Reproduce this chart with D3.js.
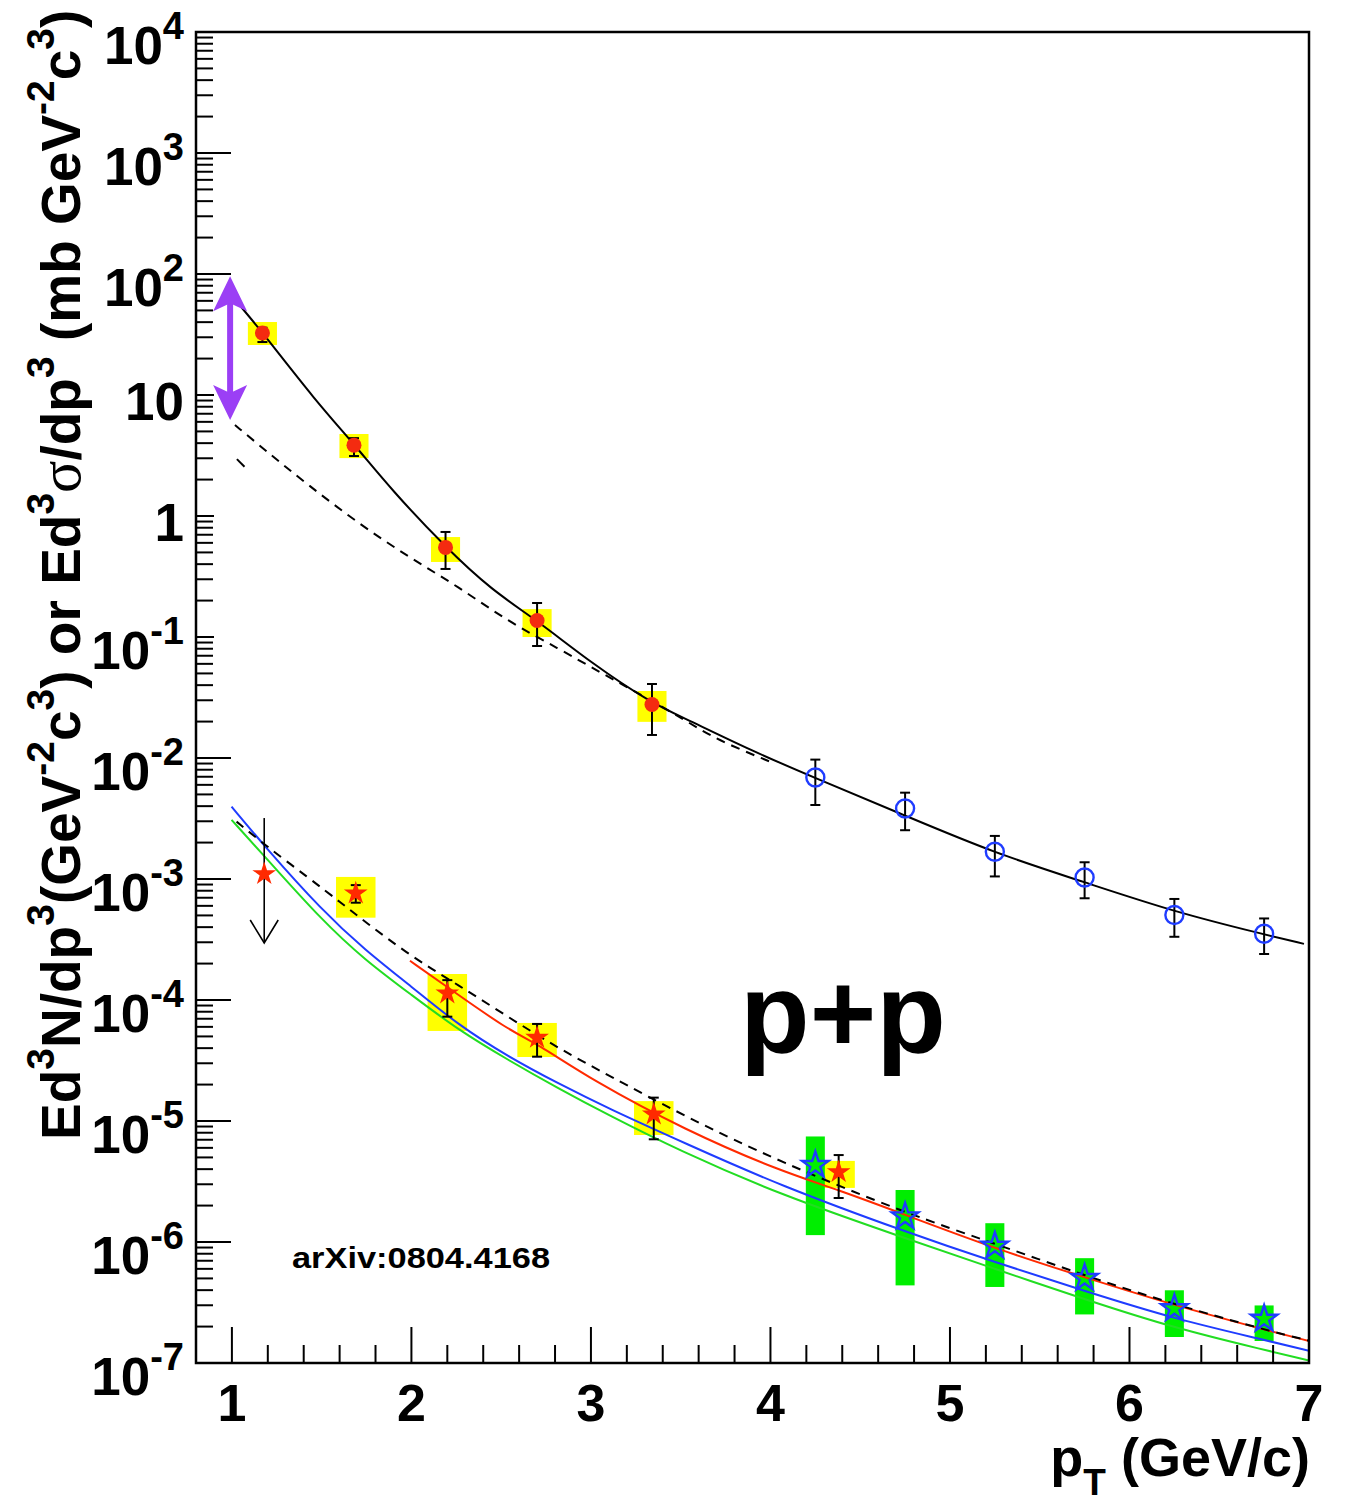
<!DOCTYPE html>
<html>
<head>
<meta charset="utf-8">
<script src="https://cdn.jsdelivr.net/npm/d3@7"></script>
<style>
  body { margin: 0; background: #fff; }
  text { font-family: "Liberation Sans", Arial, Helvetica, sans-serif; font-weight: bold; }
</style>
</head>
<body>
<svg id="chart" width="1348" height="1504"></svg>
<script>
// ---- data ----
// upper: Ed3sigma/dp3 (mb), red circles with yellow syst boxes
const upperPt    = [1.17, 1.68, 2.19, 2.70, 3.34];
const upperVal   = [32.5, 3.85, 0.55, 0.137, 0.0277];
const upperErrHi = [36, 4.4, 0.738, 0.191, 0.0409];
const upperErrLo = [27.4, 3.13, 0.365, 0.0843, 0.0155];
const upperSysHi = [40.1, 4.76, 0.67, 0.170, 0.0358];
const upperSysLo = [25.9, 3.01, 0.417, 0.100, 0.0199];

// upper: blue open circles
const openPt    = [4.25, 4.75, 5.25, 5.75, 6.25, 6.75];
const openVal   = [6.9e-3, 3.82e-3, 1.68e-3, 1.03e-3, 5.04e-4, 3.53e-4];
const openErrHi = [9.7e-3, 5.17e-3, 2.27e-3, 1.375e-3, 6.84e-4, 4.72e-4];
const openErrLo = [4.09e-3, 2.53e-3, 1.05e-3, 6.93e-4, 3.33e-4, 2.40e-4];

// lower: Ed3N/dp3, red stars with yellow syst boxes
const starPt    = [1.69, 2.20, 2.70, 3.35, 4.38];
const starVal   = [7.62e-4, 1.135e-4, 4.88e-5, 1.135e-5, 3.79e-6];
const starErrHi = [8.9e-4, 1.46e-4, 6.34e-5, 1.56e-5, 5.23e-6];
const starErrLo = [6.37e-4, 7.28e-5, 3.40e-5, 7.06e-6, 2.31e-6];
const starSysHi = [1.04e-3, 1.64e-4, 6.46e-5, 1.46e-5, 4.68e-6];
const starSysLo = [4.79e-4, 5.55e-5, 3.38e-5, 7.66e-6, 2.80e-6];
const starBinHalf = [0.11, 0.11, 0.11, 0.11, 0.09];

// lower: upper limit at lowest pT
const limitPt = 1.18, limitVal = 1.1e-3, limitTop = 3.19e-3, limitBottom = 2.96e-4;

// lower: blue open stars with green syst boxes
const bstarPt    = [4.25, 4.75, 5.25, 5.75, 6.25, 6.75];
const bstarVal   = [4.31e-6, 1.62e-6, 9.27e-7, 5.02e-7, 2.82e-7, 2.31e-7];
const bstarSysHi = [7.45e-6, 2.69e-6, 1.43e-6, 7.35e-7, 3.99e-7, 2.99e-7];
const bstarSysLo = [1.14e-6, 4.38e-7, 4.25e-7, 2.52e-7, 1.64e-7, 1.52e-7];

// curves (sampled along the drawn lines)
const fitUpperPt  = [1.04, 1.173, 1.462, 1.685, 1.890, 2.187, 2.447, 2.698, 3.004, 3.338, 3.524, 3.886, 4.248, 4.755, 5.251, 5.752, 6.253, 6.755, 6.972];
const fitUpperVal = [56, 32.5, 9.10, 3.86, 1.64, 0.557, 0.244, 0.138, 0.0606, 0.0283, 0.0213, 0.01164, 6.84e-3, 3.32e-3, 1.63e-3, 9.4e-4, 5.33e-4, 3.47e-4, 2.91e-4];

const dashUpperPt  = [1.017, 1.184, 1.425, 1.704, 1.982, 2.261, 2.539, 2.818, 3.060, 3.282, 3.524, 3.702, 4.0];
const dashUpperVal = [5.65, 3.51, 1.80, 0.871, 0.461, 0.261, 0.134, 0.0807, 0.0501, 0.0332, 0.0206, 0.0141, 9.3e-3];

const strayPt  = [1.028, 1.07];
const strayVal = [2.95, 2.55];

const dashLowerPt  = [1.026, 1.184, 1.425, 1.611, 1.741, 2.001, 2.261, 2.539, 2.818, 3.097, 3.524, 4.053, 4.754, 5.252, 5.753, 6.253, 6.754, 7.0];
const dashLowerVal = [2.98e-3, 1.91e-3, 1.03e-3, 6.30e-4, 4.44e-4, 2.28e-4, 1.33e-4, 7.24e-5, 3.99e-5, 2.39e-5, 1.09e-5, 4.59e-6, 1.73e-6, 9.68e-7, 5.26e-7, 3.04e-7, 1.88e-7, 1.53e-7];

const redPt  = [1.992, 2.196, 2.539, 2.698, 3.004, 3.524, 4.053, 4.376, 4.754, 5.252, 5.753, 6.253, 6.754, 7.0];
const redVal = [2.11e-4, 1.29e-4, 5.65e-5, 4.39e-5, 2.18e-5, 8.43e-6, 3.86e-6, 2.71e-6, 1.67e-6, 8.81e-7, 5.09e-7, 2.99e-7, 1.88e-7, 1.52e-7];

const bluePt  = [0.998, 1.184, 1.500, 1.741, 2.001, 2.261, 2.539, 2.818, 3.097, 3.524, 4.053, 4.754, 5.252, 5.753, 6.253, 6.754, 7.0];
const blueVal = [3.96e-3, 1.85e-3, 5.55e-4, 2.59e-4, 1.29e-4, 6.21e-5, 3.40e-5, 2.04e-5, 1.27e-5, 6.55e-6, 2.93e-6, 1.21e-6, 6.79e-7, 3.93e-7, 2.31e-7, 1.55e-7, 1.26e-7];

const greenPt  = [0.998, 1.184, 1.500, 1.741, 2.001, 2.261, 2.539, 2.818, 3.097, 3.486, 4.053, 4.754, 5.252, 5.753, 6.253, 6.754, 7.0];
const greenVal = [3.08e-3, 1.53e-3, 4.58e-4, 2.14e-4, 1.10e-4, 5.65e-5, 3.19e-5, 1.86e-5, 1.12e-5, 5.75e-6, 2.46e-6, 1.07e-6, 5.98e-7, 3.35e-7, 1.94e-7, 1.28e-7, 1.05e-7];

// purple double arrow
const purplePt = 0.99, purpleTop = 96, purpleBottom = 6.2;

// axis ticks
const xMajor = [1, 2, 3, 4, 5, 6, 7];
const yExponents = d3.range(-7, 5);
const shortMajors = [1, 0, -1];

// ---- layout ----
const W = 1348, H = 1504;
const margin = {top: 32, right: 39, bottom: 141, left: 196};
const x = d3.scaleLinear().domain([0.8, 7]).range([margin.left, W - margin.right]);
const y = d3.scaleLog().domain([1e-7, 1e4]).range([H - margin.bottom, margin.top]);

const svg = d3.select("#chart");

svg.append("defs").append("clipPath").attr("id", "frame")
  .append("rect")
    .attr("x", x(0.8)).attr("y", y(1e4))
    .attr("width", x(7) - x(0.8)).attr("height", y(1e-7) - y(1e4));

const plot = svg.append("g").attr("clip-path", "url(#frame)");

// syst boxes
function sysBoxes(pt, lo, hi, half, color) {
  const hw = i => Array.isArray(half) ? half[i] : half;
  plot.append("g").selectAll("rect")
    .data(d3.range(pt.length))
    .join("rect")
      .attr("x", i => x(pt[i] - hw(i)))
      .attr("width", i => x(pt[i] + hw(i)) - x(pt[i] - hw(i)))
      .attr("y", i => y(hi[i]))
      .attr("height", i => y(lo[i]) - y(hi[i]))
      .attr("fill", color);
}
sysBoxes(upperPt, upperSysLo, upperSysHi, 0.081, "#ffff00");
sysBoxes(starPt, starSysLo, starSysHi, starBinHalf, "#ffff00");
sysBoxes(bstarPt, bstarSysLo, bstarSysHi, 0.053, "#00ee00");

// curves
const line = d3.line().x(d => x(d[0])).y(d => y(d[1])).curve(d3.curveBasis);
function curve(pt, val, color, dash) {
  plot.append("path")
    .datum(d3.zip(pt, val))
    .attr("d", line)
    .attr("fill", "none")
    .attr("stroke", color)
    .attr("stroke-width", 2)
    .attr("stroke-dasharray", dash);
}
curve(greenPt, greenVal, "#22dd22", null);
curve(bluePt, blueVal, "#1f3cff", null);
curve(redPt, redVal, "#ff2a00", null);
curve(dashLowerPt, dashLowerVal, "#000", "9,7");
curve(dashUpperPt, dashUpperVal, "#000", "9,7");
curve(strayPt, strayVal, "#000", null);
curve(fitUpperPt, fitUpperVal, "#000", null);

// error bars
function errBars(pt, lo, hi) {
  const eb = plot.append("g").attr("stroke", "#000").attr("stroke-width", 2);
  pt.forEach((p, i) => {
    eb.append("line").attr("x1", x(p)).attr("x2", x(p)).attr("y1", y(hi[i])).attr("y2", y(lo[i]));
    [hi[i], lo[i]].forEach(v => {
      eb.append("line").attr("x1", x(p) - 5).attr("x2", x(p) + 5).attr("y1", y(v)).attr("y2", y(v));
    });
  });
}
errBars(upperPt, upperErrLo, upperErrHi);
errBars(openPt, openErrLo, openErrHi);
errBars(starPt, starErrLo, starErrHi);

// upper limit arrow
const ul = plot.append("g").attr("stroke", "#000").attr("stroke-width", 1.6).attr("fill", "none");
ul.append("line").attr("x1", x(limitPt)).attr("x2", x(limitPt)).attr("y1", y(limitTop)).attr("y2", y(limitBottom));
ul.append("path").attr("d", `M${x(limitPt) - 14},${y(limitBottom) - 23}L${x(limitPt)},${y(limitBottom)}L${x(limitPt) + 14},${y(limitBottom) - 23}`);

// markers
plot.append("g").selectAll("circle")
  .data(d3.zip(upperPt, upperVal))
  .join("circle")
    .attr("cx", d => x(d[0])).attr("cy", d => y(d[1])).attr("r", 7.5)
    .attr("fill", "#f42b10");

plot.append("g").selectAll("circle")
  .data(d3.zip(openPt, openVal))
  .join("circle")
    .attr("cx", d => x(d[0])).attr("cy", d => y(d[1])).attr("r", 9)
    .attr("fill", "none").attr("stroke", "#1f3cff").attr("stroke-width", 2.4);

const starRed = d3.symbol().type(d3.symbolStar).size(175);
plot.append("g").selectAll("path")
  .data(d3.zip(starPt, starVal).concat([[limitPt, limitVal]]))
  .join("path")
    .attr("d", starRed)
    .attr("transform", d => `translate(${x(d[0])},${y(d[1])})`)
    .attr("fill", "#ff2a00");

const starBlue = d3.symbol().type(d3.symbolStar).size(215);
plot.append("g").selectAll("path")
  .data(d3.zip(bstarPt, bstarVal))
  .join("path")
    .attr("d", starBlue)
    .attr("transform", d => `translate(${x(d[0])},${y(d[1])})`)
    .attr("fill", "none").attr("stroke", "#1f3cff").attr("stroke-width", 2.4);

// purple double arrow
const ax = x(purplePt), aTop = y(purpleTop), aBot = y(purpleBottom);
svg.append("line")
  .attr("x1", ax).attr("x2", ax).attr("y1", aTop + 20).attr("y2", aBot - 20)
  .attr("stroke", "#9b3ff5").attr("stroke-width", 6);
svg.append("path")
  .attr("d", `M${ax},${aTop}L${ax + 17},${aTop + 35}L${ax},${aTop + 27}L${ax - 17},${aTop + 35}Z` +
             `M${ax},${aBot}L${ax + 17},${aBot - 35}L${ax},${aBot - 27}L${ax - 17},${aBot - 35}Z`)
  .attr("fill", "#9b3ff5");

// ---- axes ----
const axes = svg.append("g").attr("stroke", "#000");
axes.append("rect")
  .attr("x", x(0.8)).attr("y", y(1e4))
  .attr("width", x(7) - x(0.8)).attr("height", y(1e-7) - y(1e4))
  .attr("fill", "none").attr("stroke-width", 2.5);

// y ticks
yExponents.forEach(e => {
  const len = shortMajors.includes(e) ? 18 : 35;
  axes.append("line").attr("x1", x(0.8)).attr("x2", x(0.8) + len)
    .attr("y1", y(Math.pow(10, e))).attr("y2", y(Math.pow(10, e))).attr("stroke-width", 2);
  if (e < 4) {
    d3.range(2, 10).forEach(m => {
      const v = m * Math.pow(10, e);
      axes.append("line").attr("x1", x(0.8)).attr("x2", x(0.8) + 17)
        .attr("y1", y(v)).attr("y2", y(v)).attr("stroke-width", 2);
    });
  }
});

// x ticks
d3.range(1, 7.01, 0.2).forEach(v => {
  const major = Math.abs(v - Math.round(v)) < 1e-6;
  axes.append("line").attr("x1", x(v)).attr("x2", x(v))
    .attr("y1", y(1e-7)).attr("y2", y(1e-7) - (major ? 36 : 18)).attr("stroke-width", 2);
});

// y tick labels
yExponents.forEach(e => {
  const t = svg.append("text")
    .attr("x", 184).attr("text-anchor", "end")
    .attr("font-size", 53);
  if (e === 0) t.attr("y", y(1) + 25).text("1");
  else if (e === 1) t.attr("y", y(10) + 25).text("10");
  else {
    t.attr("y", y(Math.pow(10, e)) + 32);
    t.append("tspan").text("10");
    t.append("tspan").attr("dy", -25).attr("font-size", 38).text(e);
  }
});

// x tick labels
svg.append("g").selectAll("text")
  .data(xMajor)
  .join("text")
    .attr("x", d => x(d)).attr("y", 1421)
    .attr("text-anchor", "middle").attr("font-size", 52)
    .text(d => d);

// x title
const xt = svg.append("text").attr("x", 1310).attr("y", 1476).attr("text-anchor", "end").attr("font-size", 54);
xt.append("tspan").text("p");
xt.append("tspan").attr("dy", 19).attr("font-size", 37).text("T");
xt.append("tspan").attr("dy", -19).text(" (GeV/c)");

// y title
const ySegs = [
  ["Ed", 0], ["3", 1], ["N/dp", 0], ["3", 1], ["(GeV", 0], ["-2", 1], ["c", 0], ["3", 1],
  [") or Ed", 0], ["3", 1], ["σ", 2], ["/dp", 0], ["3", 1], [" (mb GeV", 0], ["-2", 1], ["c", 0], ["3", 1], [")", 0]
];
const yt = svg.append("text")
  .attr("transform", "translate(80,1140) rotate(-90)")
  .attr("font-size", 55);
let raised = false;
ySegs.forEach(([s, kind]) => {
  const ts = yt.append("tspan").text(s);
  if (kind === 1) {
    ts.attr("dy", raised ? 0 : -26).attr("font-size", 39);
    raised = true;
  } else {
    if (raised) ts.attr("dy", 26);
    raised = false;
    if (kind === 2) ts.attr("font-family", "'Liberation Serif', 'Times New Roman', serif").attr("font-weight", "normal").attr("font-size", 60);
  }
});

// annotations
svg.append("text").attr("x", 740).attr("y", 1052).attr("font-size", 114).text("p+p");
svg.append("text")
  .attr("x", 292).attr("y", 1268)
  .attr("font-family", "Lato, 'Open Sans', sans-serif").attr("font-weight", 900).attr("font-size", 29)
  .attr("textLength", 258).attr("lengthAdjust", "spacingAndGlyphs")
  .text("arXiv:0804.4168");
</script>
</body>
</html>
